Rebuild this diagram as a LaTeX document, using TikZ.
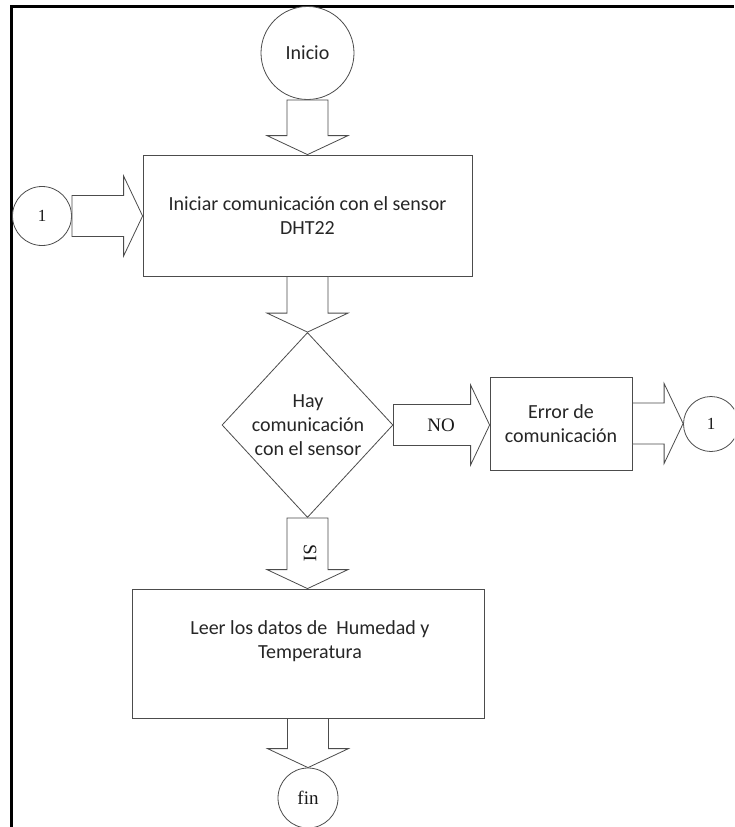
\documentclass[tikz,border=0pt]{standalone}
\usepackage{fontspec}
\setmainfont{Carlito}
\newfontfamily\serifA{Liberation Serif}
\usetikzlibrary{shapes.geometric,calc}
\newcommand{\fatdown}[2]{\draw[fat] let \p1=(#1), \p2=(#2) in
  (\x1-20.5pt,\y1) -- (\x1+20.5pt,\y1) -- (\x1+20.5pt,\y2+19pt) -- (\x1+40.5pt,\y2+19pt)
  -- (\x1,\y2) -- (\x1-40.5pt,\y2+19pt) -- (\x1-20.5pt,\y2+19pt) -- cycle;}
\newcommand{\fatright}[2]{\draw[fat] let \p1=(#1), \p2=(#2) in
  (\x1,\y1+20.5pt) -- (\x2-19pt,\y1+20.5pt) -- (\x2-19pt,\y1+40pt) -- (\x2,\y1)
  -- (\x2-19pt,\y1-40pt) -- (\x2-19pt,\y1-20.5pt) -- (\x1,\y1-20.5pt) -- cycle;}
\begin{document}
\begin{tikzpicture}[x=1pt,y=-1pt,
  shp/.style={draw=black!70, line width=0.8pt, fill=white, inner sep=0pt},
  boxshape/.style={shp, rectangle},
  circshape/.style={shp, circle},
  lbl/.style={font=\fontsize{20}{24}\selectfont, text=black!85, align=center},
  ser/.style={font=\serifA\fontsize{19}{22}\selectfont, text=black!90},
  fat/.style={draw=black!70, line width=0.8pt, fill=white, line join=miter},
  frameline/.style={draw=black, line width=3pt}]
\useasboundingbox (0,0) rectangle (734,827);
\clip (0,0) rectangle (734,827);
\fill[white] (0,0) rectangle (734,827);
% frame
\draw[frameline] (11,827) -- (11,6) -- (734,6);
% nodes
\node[circshape, minimum size=93pt, lbl] (inicio) at (307.5,53) {Inicio};
\node[boxshape, minimum width=329pt, minimum height=121pt] (b1) at (307.5,215.5) {};
\node[lbl] (b1t) at (307.5,216) {Iniciar comunicación con el sensor\\DHT22};
\node[circshape, minimum size=59pt, ser, font=\serifA\fontsize{17}{20}\selectfont] (c1) at (42,216) {1};
\node[shp, diamond, minimum width=171pt, minimum height=185pt] (dec) at (307.5,425) {};
\node[lbl] (dect) at (308,425.5) {Hay\\comunicación\\con el sensor};
\node[boxshape, minimum width=142pt, minimum height=93pt] (err) at (561,423.5) {};
\node[lbl] (errt) at (561,423.5) {Error de\\comunicación};
\node[circshape, minimum size=55pt, ser, font=\serifA\fontsize{17}{20}\selectfont] (c1r) at (711,424) {1};
\node[boxshape, minimum width=352pt, minimum height=129pt] (leer) at (308,653.5) {};
\node[lbl] (leert) at (310,641.5) {Leer los datos de\ \ Humedad y\\Temperatura};
\node[circshape, minimum size=60pt, ser] (fin) at (308,798) {fin};
% connectors
\fatdown{inicio.south}{b1.north}
\fatdown{b1.south}{dec.north}
\fatdown{dec.south}{leer.north}
\fatdown{leer.south}{fin.north}
\fatright{c1.east}{b1.west}
\fatright{dec.east}{err.west}
\fatright{err.east}{c1r.west}
% labels on connectors
\node[ser] (no) at (441,425) {NO};
\node[ser, rotate=-90] (si) at (310,553) {SI};
\end{tikzpicture}
\end{document}
